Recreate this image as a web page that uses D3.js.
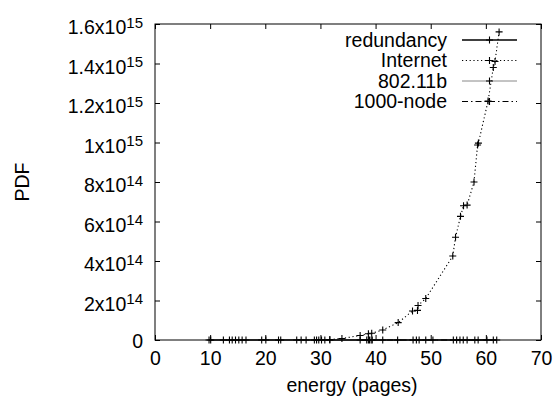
<!DOCTYPE html>
<html>
<head>
<meta charset="utf-8">
<script src="https://cdn.jsdelivr.net/npm/d3@7"></script>
<style>
  body { margin: 0; background: #fff; }
  #chart { width: 557px; height: 403px; }
  text { font-family: "Liberation Sans", Arial, sans-serif; fill: #000; }
</style>
</head>
<body>
<div id="chart"></div>
<script>
// series values (x = energy in pages, y = PDF)
const internetX = [31.7, 33.9, 37.2, 38.7, 39.3, 41.3, 44.1, 46.7, 47.6, 47.7, 49.1, 54.0, 54.5, 55.4, 55.95, 56.6, 57.85, 58.5, 58.65, 60.4, 61.35, 61.66, 62.4];
const internetY = [0.02e14, 0.076e14, 0.23e14, 0.32e14, 0.34e14, 0.51e14, 0.88e14, 1.47e14, 1.5e14, 1.75e14, 2.1e14, 4.25e14, 5.2e14, 6.26e14, 6.8e14, 6.83e14, 8.0e14, 9.87e14, 9.97e14, 12.1e14, 13.8e14, 14.1e14, 15.6e14];

const redundancyX = [9.8, 12.4, 14.0, 15.2, 19.35, 22.4, 25.7, 27.4, 29.3, 30.2, 31.7, 38.4, 39.4, 44.0, 47.4, 49.1, 54.7, 55.9, 58.0, 60.2, 61.97];
const redundancyY = redundancyX.map(() => 0);

const wifiX = [10.1, 13.5, 14.6, 15.8, 16.5, 20.1, 22.8, 26.5, 28.9, 29.7, 30.8, 38.7, 39.2, 50.4];
const wifiY = wifiX.map(() => 0);

const nodeX = [37.2, 38.9, 41.3, 46.8, 47.9, 54.1, 55.3, 56.6, 58.6, 61.35];
const nodeY = nodeX.map(() => 0);

const xTicks = [0, 10, 20, 30, 40, 50, 60, 70];
const yTicks = [0, 2e14, 4e14, 6e14, 8e14, 1e15, 1.2e15, 1.4e15, 1.6e15];

const series = [
    {name: 'redundancy', xs: redundancyX, ys: redundancyY, color: '#000', dash: null, width: 1.4, order: 3},
    {name: 'Internet', xs: internetX, ys: internetY, color: '#000', dash: '1.2,2.6', width: 1.1, order: 2},
    {name: '802.11b', xs: wifiX, ys: wifiY, color: '#888', dash: null, width: 1, order: 0},
    {name: '1000-node', xs: nodeX, ys: nodeY, color: '#000', dash: '6,3,1.5,3', width: 1, order: 1}
];

const fontSize = '19.5px';
const margin = {top: 24, right: 16, bottom: 63, left: 155};
const width = 557 - margin.left - margin.right;
const height = 403 - margin.top - margin.bottom;

const svg = d3.select('#chart').append('svg')
    .attr('width', 557)
    .attr('height', 403)
    .append('g')
    .attr('transform', `translate(${margin.left},${margin.top})`);

const x = d3.scaleLinear().domain([0, 70]).range([0, width]);
const y = d3.scaleLinear().domain([0, 1.6e15]).range([height, 0]);

// ticks point inward on all four sides, like gnuplot
const tickLen = 5;

function superLabel(sel) {
    sel.each(function(d) {
        const t = d3.select(this);
        t.text(null);
        if (d === 0) { t.text('0').attr('dy', '0.36em'); return; }
        const e = Math.floor(Math.log10(d) + 1e-9);
        const m = +(d / Math.pow(10, e)).toFixed(2);
        t.attr('dy', '0.5em');
        t.append('tspan').text(`${m}x10`);
        t.append('tspan').attr('dy', '-0.45em').attr('font-size', '15px').text(e);
    });
}

svg.append('g')
    .attr('transform', `translate(0,${height})`)
    .call(d3.axisBottom(x).tickValues(xTicks).tickSize(-tickLen).tickPadding(11).tickFormat(d3.format('d')));

const yAxis = svg.append('g')
    .call(d3.axisLeft(y).tickValues(yTicks).tickSize(-tickLen).tickPadding(12));
yAxis.selectAll('.tick text').call(superLabel);

svg.append('g')
    .call(d3.axisTop(x).tickValues(xTicks).tickSize(-tickLen).tickFormat(''));
svg.append('g')
    .attr('transform', `translate(${width},0)`)
    .call(d3.axisRight(y).tickValues(yTicks).tickSize(-tickLen).tickFormat(''));

svg.selectAll('.domain').remove();
svg.selectAll('.tick line').attr('stroke', '#000');
svg.selectAll('.tick text').attr('font-size', fontSize).attr('font-family', '"Liberation Sans", Arial, sans-serif');

svg.append('rect')
    .attr('width', width)
    .attr('height', height)
    .attr('fill', 'none')
    .attr('stroke', '#000')
    .attr('stroke-width', 1);

// axis titles
svg.append('text')
    .attr('text-anchor', 'middle')
    .attr('x', width / 2 + 4)
    .attr('y', height + 52)
    .attr('font-size', fontSize)
    .text('energy (pages)');

svg.append('text')
    .attr('text-anchor', 'middle')
    .attr('transform', `translate(${-126},${height / 2}) rotate(-90)`)
    .attr('font-size', fontSize)
    .text('PDF');

const plus = 'M-3.5,0H3.5M0,-3.5V3.5';

series.slice().sort((a, b) => a.order - b.order).forEach(s => {
    const pts = s.xs.map((v, i) => [v, s.ys[i]]);
    const line = d3.line().x(d => x(d[0])).y(d => y(d[1]));
    svg.append('path')
        .datum(pts)
        .attr('fill', 'none')
        .attr('stroke', s.color)
        .attr('stroke-width', s.width)
        .attr('stroke-dasharray', s.dash)
        .attr('d', line);
    svg.selectAll(null)
        .data(pts)
        .enter()
        .append('path')
        .attr('transform', d => `translate(${x(d[0])},${y(d[1])})`)
        .attr('d', plus)
        .attr('stroke', '#000')
        .attr('stroke-width', 1.1)
        .attr('fill', 'none');
});

// legend, top right inside the frame
const legend = svg.append('g').attr('transform', 'translate(0,16)');
series.forEach((s, i) => {
    const row = legend.append('g').attr('transform', `translate(0,${i * 20.5})`);
    row.append('text')
        .attr('x', 292)
        .attr('y', 0)
        .attr('dy', '0.35em')
        .attr('text-anchor', 'end')
        .attr('font-size', fontSize)
        .text(s.name);
    row.append('line')
        .attr('x1', 307).attr('x2', 362)
        .attr('stroke', s.color)
        .attr('stroke-width', s.width)
        .attr('stroke-dasharray', s.dash);
    row.append('path')
        .attr('transform', 'translate(334.5,0)')
        .attr('d', plus)
        .attr('stroke', '#000')
        .attr('stroke-width', 1.1);
});
</script>
</body>
</html>
